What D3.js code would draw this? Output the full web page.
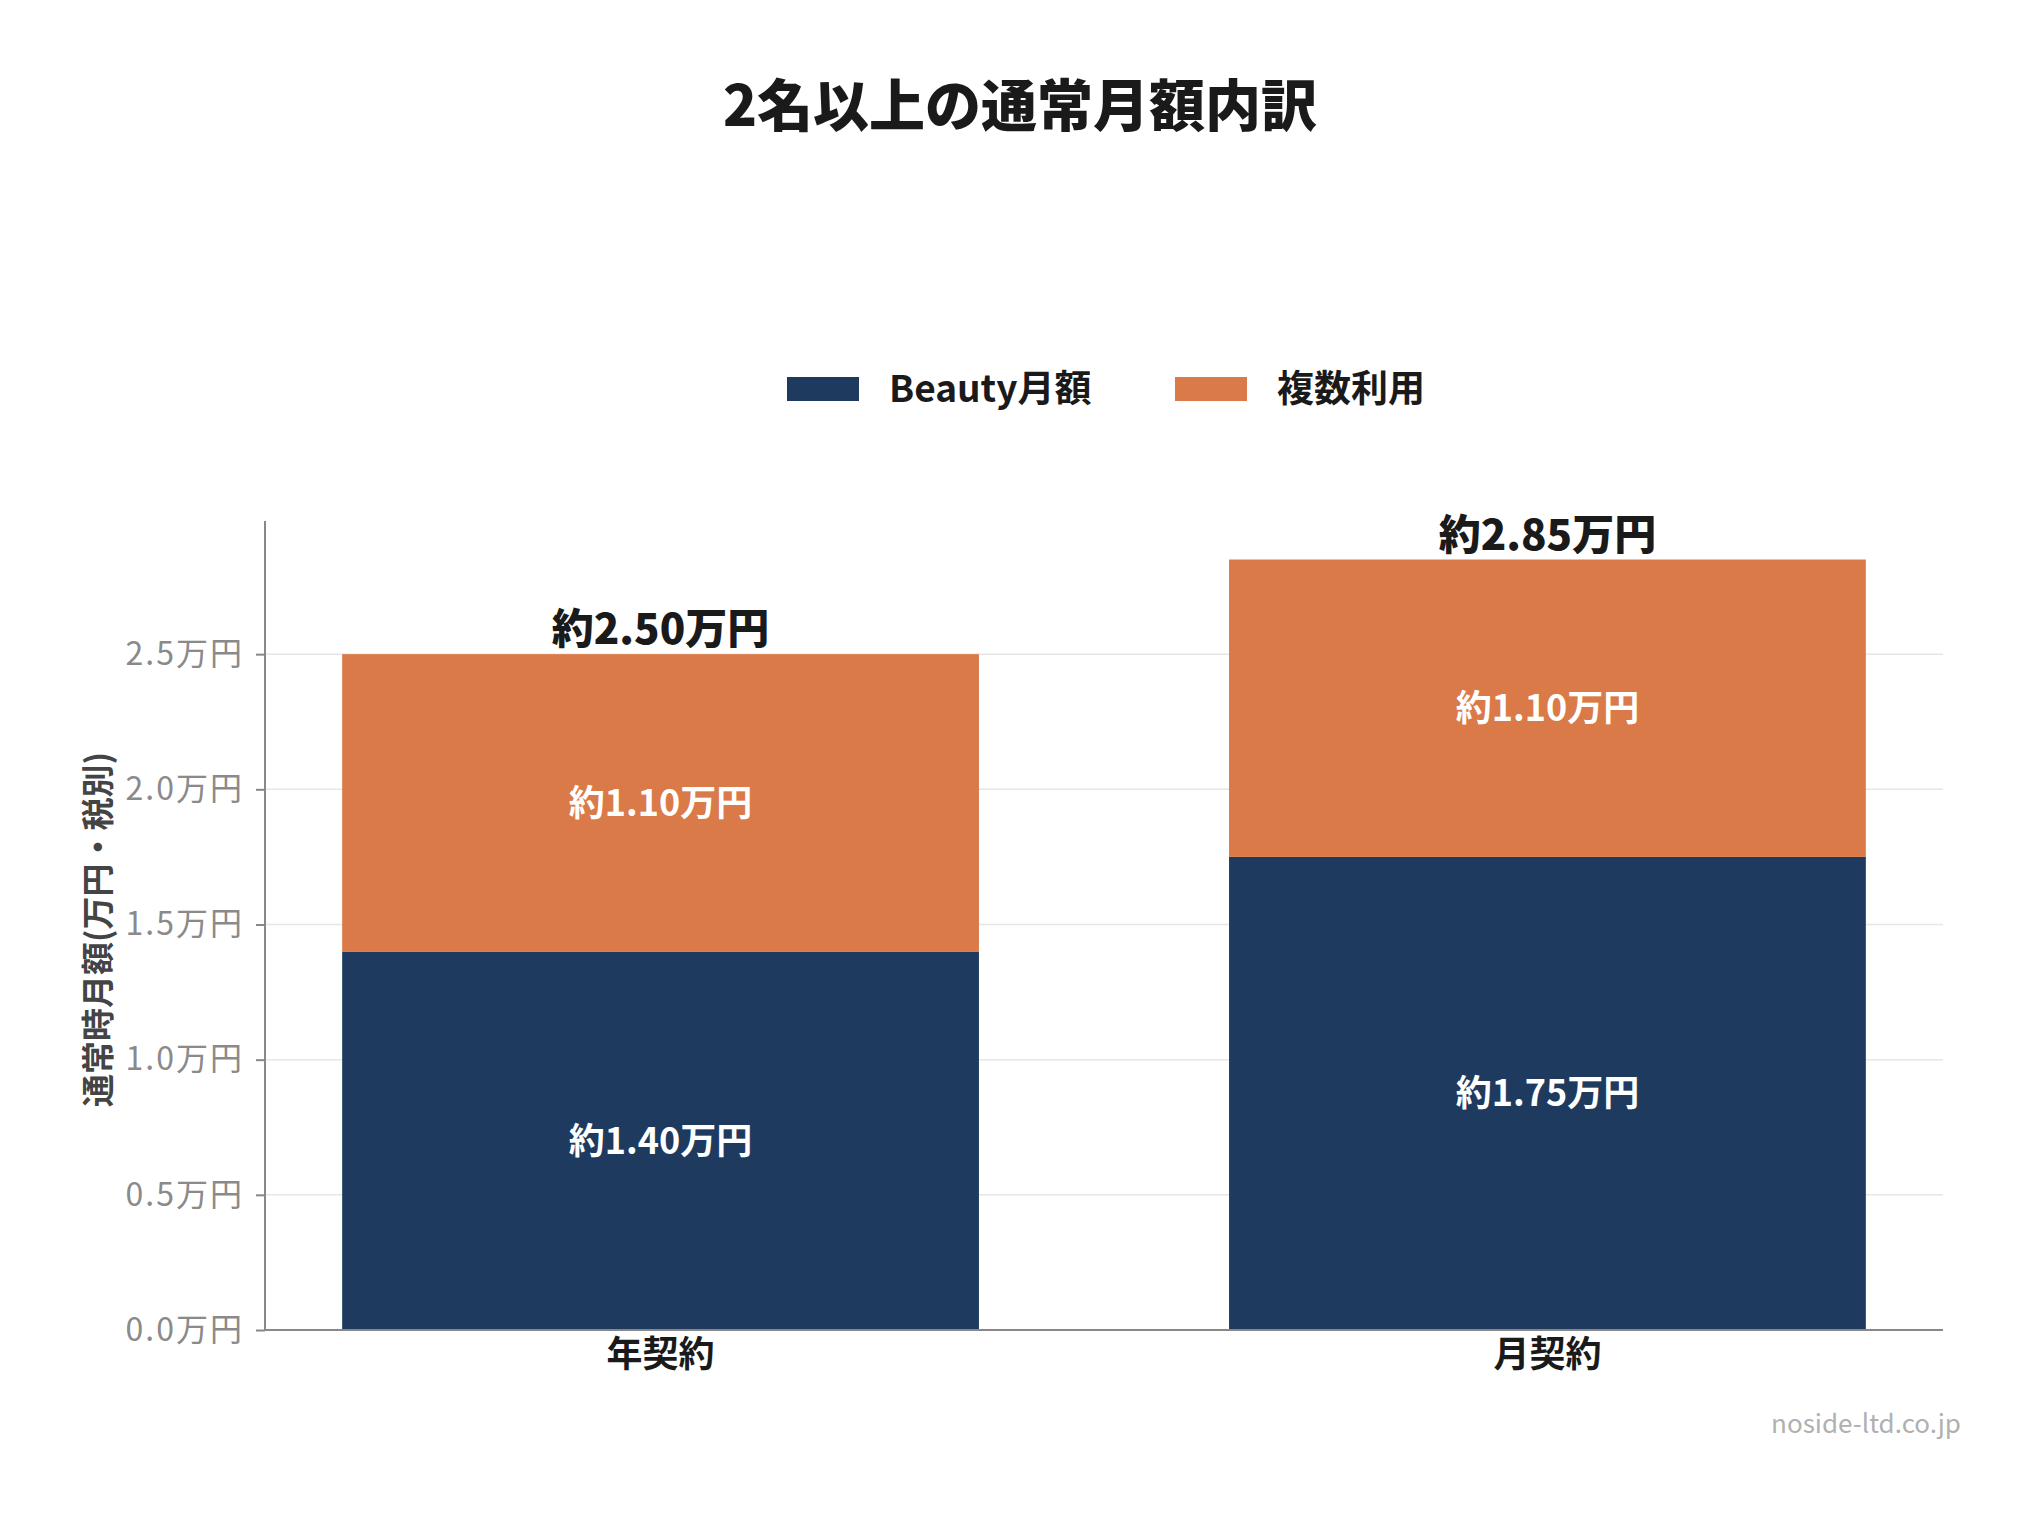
<!DOCTYPE html>
<html>
<head>
<meta charset="utf-8">
<script src="https://cdn.jsdelivr.net/npm/d3@7"></script>
<style>
  html, body { margin: 0; padding: 0; background: #fff; }
  text { font-family: "Noto Sans CJK JP", "Noto Sans", sans-serif; }
</style>
</head>
<body>
<div id="chart"></div>
<script>
// データ
var categories = ["年契約", "月契約"];
var seriesNames = ["Beauty月額", "複数利用"];
var beautyValues = [1.40, 1.75];
var multiValues = [1.10, 1.10];
var yTicks = [0, 0.5, 1.0, 1.5, 2.0, 2.5];
var colors = ["#1e3a5f", "#da7a48"];

var W = 2040, H = 1516;
var margin = { left: 265, right: 97, top: 521, bottom: 186 };

var svg = d3.select("#chart").append("svg")
    .attr("width", W)
    .attr("height", H);

// スタック用の行
var rows = categories.map(function(c, i) {
    return { cat: c, beauty: beautyValues[i], multi: multiValues[i] };
});
var stacked = d3.stack().keys(["beauty", "multi"])(rows);
var totals = rows.map(function(r) { return r.beauty + r.multi; });

var x = d3.scaleBand()
    .domain(categories)
    .range([margin.left, W - margin.right])
    .paddingInner(0.282)
    .paddingOuter(0.087);

var y = d3.scaleLinear()
    .domain([0, d3.max(totals) * 1.05])
    .range([H - margin.bottom, margin.top]);

// グリッド
svg.append("g")
    .selectAll("line")
    .data(yTicks)
    .enter()
    .append("line")
    .attr("x1", margin.left)
    .attr("x2", W - margin.right)
    .attr("y1", function(d) { return y(d); })
    .attr("y2", function(d) { return y(d); })
    .attr("stroke", "#e6e6e6")
    .attr("stroke-width", 1.5);

// バー
var layer = svg.append("g")
    .selectAll("g")
    .data(stacked)
    .enter()
    .append("g")
    .attr("fill", function(d, i) { return colors[i]; });

layer.selectAll("rect")
    .data(function(d) { return d; })
    .enter()
    .append("rect")
    .attr("x", function(d) { return x(d.data.cat); })
    .attr("width", x.bandwidth())
    .attr("y", function(d) { return y(d[1]); })
    .attr("height", function(d) { return y(d[0]) - y(d[1]); });

// バー内ラベル
layer.selectAll("text")
    .data(function(d) { return d; })
    .enter()
    .append("text")
    .attr("x", function(d) { return x(d.data.cat) + x.bandwidth() / 2; })
    .attr("y", function(d) { return (y(d[0]) + y(d[1])) / 2; })
    .attr("dy", "0.36em")
    .attr("text-anchor", "middle")
    .attr("font-size", "36px")
    .attr("font-weight", 700)
    .attr("fill", "#ffffff")
    .text(function(d) { return "約" + (d[1] - d[0]).toFixed(2) + "万円"; });

// 合計ラベル
svg.append("g")
    .selectAll("text")
    .data(rows)
    .enter()
    .append("text")
    .attr("x", function(d) { return x(d.cat) + x.bandwidth() / 2; })
    .attr("y", function(d, i) { return y(totals[i]) - 10; })
    .attr("text-anchor", "middle")
    .attr("font-size", "42px")
    .attr("font-weight", 900)
    .attr("fill", "#1a1a1a")
    .text(function(d, i) { return "約" + totals[i].toFixed(2) + "万円"; });

// Y軸
var yAxis = d3.axisLeft(y)
    .tickValues(yTicks)
    .tickSize(9)
    .tickPadding(12)
    .tickFormat(function(d) { return d.toFixed(1) + "万円"; });

var gy = svg.append("g")
    .attr("transform", "translate(" + margin.left + ",0)")
    .call(yAxis);
gy.select(".domain").remove();
gy.selectAll(".tick line").attr("stroke", "#888").attr("stroke-width", 2);
gy.selectAll(".tick text")
    .attr("font-size", "32px")
    .attr("font-family", "\"Noto Sans CJK JP\", sans-serif")
    .attr("fill", "#8a8a8a")
    .attr("letter-spacing", "2px");

svg.append("line")
    .attr("x1", margin.left).attr("x2", margin.left)
    .attr("y1", margin.top).attr("y2", H - margin.bottom)
    .attr("stroke", "#888").attr("stroke-width", 2);

// X軸
var xAxis = d3.axisBottom(x).tickSize(0).tickPadding(11);
var gx = svg.append("g")
    .attr("transform", "translate(0," + (H - margin.bottom) + ")")
    .call(xAxis);
gx.select(".domain").remove();
gx.selectAll(".tick text")
    .attr("font-size", "36px")
    .attr("font-weight", 700)
    .attr("font-family", "\"Noto Sans CJK JP\", sans-serif")
    .attr("fill", "#1a1a1a");

svg.append("line")
    .attr("x1", margin.left).attr("x2", W - margin.right)
    .attr("y1", H - margin.bottom).attr("y2", H - margin.bottom)
    .attr("stroke", "#888").attr("stroke-width", 2);

// Y軸タイトル
svg.append("text")
    .attr("transform", "translate(110," + ((margin.top + H - margin.bottom) / 2 + 4) + ") rotate(-90)")
    .attr("text-anchor", "middle")
    .attr("font-size", "33px")
    .attr("font-weight", 700)
    .attr("fill", "#444")
    .text("通常時月額(万円・税別)");

// タイトル
svg.append("text")
    .attr("x", W / 2)
    .attr("y", 126)
    .attr("text-anchor", "middle")
    .attr("font-size", "56px")
    .attr("font-weight", 900)
    .attr("fill", "#1a1a1a")
    .text("2名以上の通常月額内訳");

// 凡例
var legendX = [787, 1175];
var legend = svg.append("g")
    .selectAll("g")
    .data(seriesNames)
    .enter()
    .append("g")
    .attr("transform", function(d, i) { return "translate(" + legendX[i] + ",377)"; });
legend.append("rect")
    .attr("width", 72)
    .attr("height", 24)
    .attr("fill", function(d, i) { return colors[i]; });
legend.append("text")
    .attr("x", 102)
    .attr("y", 12)
    .attr("dy", "0.36em")
    .attr("font-size", "37px")
    .attr("font-weight", 700)
    .attr("fill", "#1a1a1a")
    .text(function(d) { return d; });

// クレジット
svg.append("text")
    .attr("x", 1961)
    .attr("y", 1433)
    .attr("text-anchor", "end")
    .attr("font-size", "26px")
    .attr("fill", "#b0b0b0")
    .text("noside-ltd.co.jp");
</script>
</body>
</html>
